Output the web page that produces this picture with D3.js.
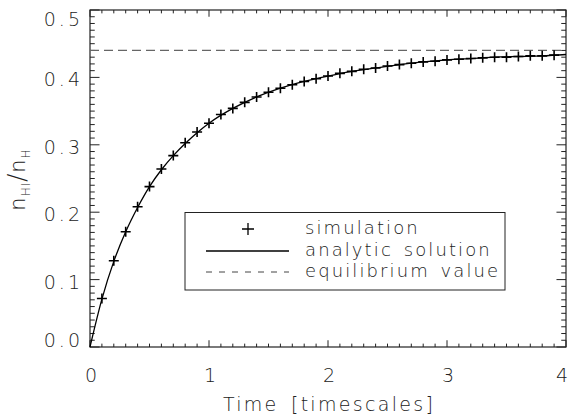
<!DOCTYPE html>
<html>
<head>
<meta charset="utf-8">
<script src="https://cdn.jsdelivr.net/npm/d3@7"></script>
<style>
  body { margin: 0; background: #fff; }
  text { font-family: "DejaVu Sans", sans-serif; font-weight: 200; fill: #222; }
</style>
</head>
<body>
<div id="chart"></div>
<script>
// simulation points
var simTimes = [0.1, 0.2, 0.3, 0.4, 0.5, 0.6, 0.7, 0.8, 0.9, 1.0,
                1.1, 1.2, 1.3, 1.4, 1.5, 1.6, 1.7, 1.8, 1.9, 2.0,
                2.1, 2.2, 2.3, 2.4, 2.5, 2.6, 2.7, 2.8, 2.9, 3.0,
                3.1, 3.2, 3.3, 3.4, 3.5, 3.6, 3.7, 3.8, 3.9];
var simValues = [0.072, 0.128, 0.171, 0.208, 0.238, 0.264, 0.284, 0.303, 0.319, 0.332,
                 0.345, 0.354, 0.363, 0.371, 0.378, 0.384, 0.389, 0.394, 0.398, 0.402,
                 0.406, 0.409, 0.412, 0.414, 0.417, 0.419, 0.421, 0.423, 0.424, 0.426,
                 0.427, 0.428, 0.429, 0.430, 0.430, 0.431, 0.432, 0.432, 0.433];
// analytic solution
var lineTimes = [0, 0.1, 0.2, 0.3, 0.4, 0.5, 0.6, 0.7, 0.8, 0.9, 1.0,
                 1.2, 1.4, 1.6, 1.8, 2.0, 2.2, 2.4, 2.6, 2.8, 3.0,
                 3.2, 3.4, 3.6, 3.8, 4.0];
var lineValues = [0, 0.071, 0.127, 0.171, 0.207, 0.238, 0.263, 0.284, 0.302, 0.318, 0.332,
                  0.354, 0.371, 0.384, 0.394, 0.402, 0.409, 0.414, 0.419, 0.423, 0.426,
                  0.428, 0.430, 0.431, 0.432, 0.434];
var equilibrium = 0.44;

var xTicks = [0, 1, 2, 3, 4];
var yTicks = [0.0, 0.1, 0.2, 0.3, 0.4, 0.5];
var legendLabels = ["simulation", "analytic solution", "equilibrium value"];

var w = 570, h = 417;
var margin = { top: 10, right: 4, bottom: 70, left: 90 };

var x = d3.scaleLinear().domain([0, 4]).range([margin.left, w - margin.right]);
var y = d3.scaleLinear().domain([0, 0.5]).range([h - margin.bottom, margin.top]);

var svg = d3.select("#chart").append("svg")
    .attr("width", w)
    .attr("height", h);

var x0 = x.range()[0], x1 = x.range()[1];
var y0 = y.range()[0], y1 = y.range()[1];

// minor tick values
var xMinor = d3.range(0, 41).map(function(i) { return i / 10; });
var yMinor = d3.range(0, 51).map(function(i) { return i / 100; });
var xLen = 0.02 * (y0 - y1), yLen = 0.02 * (x1 - x0);

function isMajor(v, step) { return Math.abs(v / step - Math.round(v / step)) < 1e-6; }

var ticks = svg.append("g").attr("stroke", "#222").attr("stroke-width", 1);

// bottom and top ticks
xMinor.forEach(function(v) {
    var len = isMajor(v, 1) ? xLen : xLen / 2;
    ticks.append("line").attr("x1", x(v)).attr("x2", x(v)).attr("y1", y0).attr("y2", y0 - len);
    ticks.append("line").attr("x1", x(v)).attr("x2", x(v)).attr("y1", y1).attr("y2", y1 + len);
});
// left and right ticks
yMinor.forEach(function(v) {
    var len = isMajor(v, 0.1) ? yLen : yLen / 2;
    ticks.append("line").attr("y1", y(v)).attr("y2", y(v)).attr("x1", x0).attr("x2", x0 + len);
    ticks.append("line").attr("y1", y(v)).attr("y2", y(v)).attr("x1", x1).attr("x2", x1 - len);
});

// frame
svg.append("rect")
    .attr("x", x0).attr("y", y1)
    .attr("width", x1 - x0).attr("height", y0 - y1)
    .attr("fill", "none").attr("stroke", "#222").attr("stroke-width", 1.2);

// tick labels (kept inside the window)
svg.selectAll(".xl").data(xTicks).enter().append("text")
    .attr("x", function(d) { return Math.min(x(d) + 1, w - 8); })
    .attr("y", y0 + 35)
    .attr("text-anchor", "middle")
    .style("font-size", "19px")
    .text(function(d) { return d; });

svg.selectAll(".yl").data(yTicks).enter().append("text")
    .attr("x", x0 - 7)
    .attr("y", function(d) { return Math.max(y1 + 9, Math.min(y0 - 7, y(d) + 2)) + 7; })
    .attr("text-anchor", "end")
    .style("font-size", "19px")
    .style("letter-spacing", "3px")
    .text(function(d) { return d3.format(".1f")(d); });

// axis titles
svg.append("text")
    .attr("x", (x0 + x1) / 2 + 1)
    .attr("y", h - 6)
    .attr("text-anchor", "middle")
    .style("font-size", "19px")
    .style("letter-spacing", "2.3px")
    .style("word-spacing", "4px")
    .text("Time [timescales]");

var yt = svg.append("text")
    .attr("transform", "translate(25," + ((y0 + y1) / 2 + 1) + ") rotate(-90)")
    .attr("text-anchor", "middle")
    .style("font-size", "21px")
    .style("letter-spacing", "1px");
yt.append("tspan").text("n");
yt.append("tspan").attr("dy", 5).style("font-size", "12px").text("HI");
yt.append("tspan").attr("dy", -5).style("font-size", "24px").text("/");
yt.append("tspan").text("n");
yt.append("tspan").attr("dy", 5).style("font-size", "12px").text("H");

// equilibrium value
svg.append("line")
    .attr("x1", x0).attr("x2", x1)
    .attr("y1", y(equilibrium)).attr("y2", y(equilibrium))
    .attr("stroke", "#666").attr("stroke-width", 1.3)
    .attr("stroke-dasharray", "9,5");

// analytic solution
var lineData = lineTimes.map(function(t, i) { return [t, lineValues[i]]; });
svg.append("path")
    .datum(lineData)
    .attr("fill", "none")
    .attr("stroke", "#000")
    .attr("stroke-width", 1.3)
    .attr("d", d3.line()
        .x(function(d) { return x(d[0]); })
        .y(function(d) { return y(d[1]); })
        .curve(d3.curveMonotoneX));

// simulation points
svg.selectAll(".pt").data(simTimes).enter().append("path")
    .attr("transform", function(d, i) { return "translate(" + x(d) + "," + y(simValues[i]) + ")"; })
    .attr("d", "M-5,0H5M0,-5V5")
    .attr("stroke", "#000")
    .attr("stroke-width", 1.6)
    .attr("fill", "none");

// legend
var lg = svg.append("g");
lg.append("rect")
    .attr("x", 185).attr("y", 212.5)
    .attr("width", 320).attr("height", 77.5)
    .attr("fill", "#fff").attr("stroke", "#222").attr("stroke-width", 1);

var rowY = [229, 251, 272];
lg.append("path")
    .attr("d", "M" + 242 + "," + rowY[0] + "H" + 254 + "M" + 248 + "," + (rowY[0] - 6) + "V" + (rowY[0] + 6))
    .attr("stroke", "#000").attr("stroke-width", 1.3);
lg.append("line")
    .attr("x1", 206).attr("x2", 289).attr("y1", rowY[1]).attr("y2", rowY[1])
    .attr("stroke", "#000").attr("stroke-width", 1.3);
lg.append("line")
    .attr("x1", 206).attr("x2", 289).attr("y1", rowY[2]).attr("y2", rowY[2])
    .attr("stroke", "#444").attr("stroke-width", 1)
    .attr("stroke-dasharray", "6,7");

lg.selectAll(".lt").data(legendLabels).enter().append("text")
    .attr("x", 305)
    .attr("y", function(d, i) { return rowY[i] + 5; })
    .style("font-size", "18px")
    .style("letter-spacing", "2.1px")
    .style("word-spacing", "3px")
    .text(function(d) { return d; });
</script>
</body>
</html>
